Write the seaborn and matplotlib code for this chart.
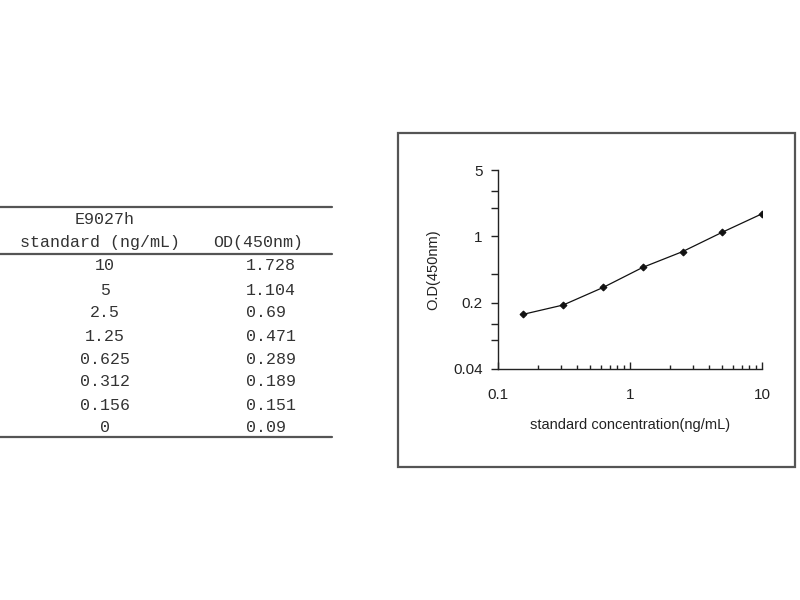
import matplotlib
matplotlib.use("Agg")
import matplotlib.pyplot as plt
import matplotlib.ticker as mticker
from matplotlib.patches import Rectangle
from matplotlib.lines import Line2D
import seaborn as sns
import pandas as pd

# ---- data ----
table_conc = [10, 5, 2.5, 1.25, 0.625, 0.312, 0.156, 0]
table_od = [1.728, 1.104, 0.69, 0.471, 0.289, 0.189, 0.151, 0.09]
plot_conc = [0.156, 0.312, 0.625, 1.25, 2.5, 5, 10]
plot_od = [0.151, 0.189, 0.289, 0.471, 0.69, 1.104, 1.728]
y_ticks = [0.04, 0.2, 1, 5]
y_minor = [0.08, 0.12, 0.4, 2, 3]
x_ticks = [0.1, 1, 10]

sns.set_style("white")
plt.rcParams['font.family'] = ['Liberation Sans', 'DejaVu Sans']

W, H = 800, 600
fig = plt.figure(figsize=(8, 6), dpi=100)

def fx(px):
    return px / W

def fy(py):
    return 1 - py / H

# ---- table ----
mono = ['Liberation Mono', 'DejaVu Sans Mono']
tcol = '#333333'
for yy in (207, 254, 437):
    fig.add_artist(Line2D([fx(0), fx(332)], [fy(yy), fy(yy)], color='#555555', lw=1.6,
                          transform=fig.transFigure))
fig.text(fx(105), fy(220), "E9027h", ha='center', va='center', family=mono, fontsize=12, color=tcol)
fig.text(fx(100), fy(243), "standard (ng/mL)", ha='center', va='center', family=mono, fontsize=12, color=tcol)
fig.text(fx(258), fy(243), "OD(450nm)", ha='center', va='center', family=mono, fontsize=12, color=tcol)
row_y = [266, 290, 313, 336, 359, 382, 405, 427]
for c, o, ry in zip(table_conc, table_od, row_y):
    fig.text(fx(105), fy(ry), str(c), ha='center', va='center', family=mono, fontsize=12, color=tcol)
    fig.text(fx(246), fy(ry), str(o), ha='left', va='center', family=mono, fontsize=12, color=tcol)

# ---- chart border ----
fig.add_artist(Rectangle((fx(398), fy(467)), fx(795) - fx(398), fy(133) - fy(467),
                         transform=fig.transFigure, fill=False, edgecolor='#555555', lw=1.6))

# ---- chart ----
ax = fig.add_axes([fx(498), fy(369), fx(762) - fx(498), fy(170) - fy(369)])
df = pd.DataFrame({"conc": plot_conc, "od": plot_od})
sns.lineplot(data=df, x="conc", y="od", ax=ax, color='#111111', lw=0.9,
             marker='D', markersize=3.5, markeredgecolor='#111111', markerfacecolor='#111111')
ax.set_xscale('log')
ax.set_yscale('log')
ax.set_xlim(0.1, 10)
ax.set_ylim(0.04, 5)
ax.xaxis.set_major_locator(mticker.FixedLocator(x_ticks))
ax.xaxis.set_major_formatter(mticker.FixedFormatter(["0.1", "1", "10"]))
ax.xaxis.set_minor_locator(mticker.LogLocator(base=10, subs=range(2, 10)))
ax.xaxis.set_minor_formatter(mticker.NullFormatter())
ax.yaxis.set_major_locator(mticker.FixedLocator(y_ticks))
ax.yaxis.set_major_formatter(mticker.FixedFormatter(["0.04", "0.2", "1", "5"]))
ax.yaxis.set_minor_locator(mticker.FixedLocator(y_minor))
ax.yaxis.set_minor_formatter(mticker.NullFormatter())
for s in ('top', 'right'):
    ax.spines[s].set_visible(False)
for s in ('left', 'bottom'):
    ax.spines[s].set_color('#222222')
    ax.spines[s].set_linewidth(1.0)
ax.tick_params(which='major', length=5, width=1, color='#222222',
               labelsize=11, labelcolor='#222222')
ax.tick_params(which='minor', length=3, width=1, color='#222222')
ax.tick_params(axis='y', which='both', left=True, direction='out', length=5, pad=6)
ax.tick_params(axis='x', which='both', bottom=True, direction='in', pad=14)
ax.set_xlabel("standard concentration(ng/mL)", fontsize=10.5, color='#222222', labelpad=11)
ax.set_ylabel("O.D(450nm)", fontsize=10.5, color='#222222', labelpad=9)
ax.grid(False)

fig.savefig("out.png", dpi=100)
